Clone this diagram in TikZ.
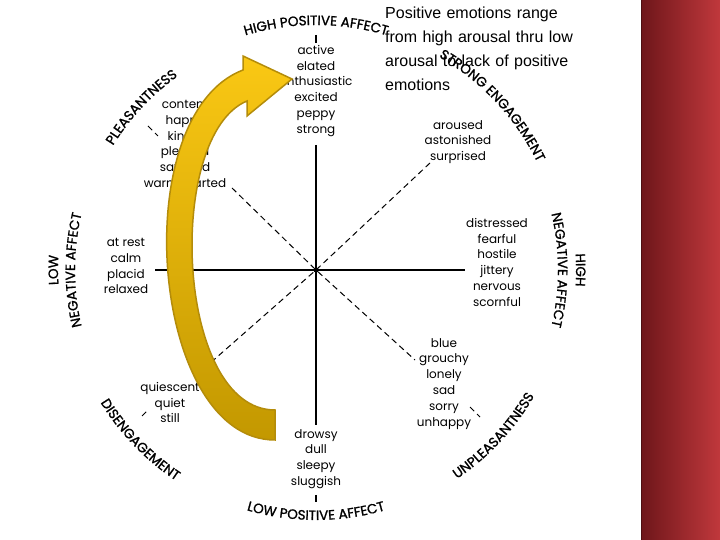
\documentclass[tikz,border=0pt]{standalone}
\usepackage{fontspec}
\setmainfont{Poppins}
\newfontfamily\labfont[FakeBold=1.2]{Poppins}
\newfontfamily\notefont{Liberation Sans}
\usetikzlibrary{decorations.text}
\definecolor{goldtop}{RGB}{250,200,20}
\definecolor{goldbot}{RGB}{195,152,0}
\definecolor{goldedge}{RGB}{180,140,10}
\definecolor{stripL}{RGB}{110,22,26}
\definecolor{stripR}{RGB}{192,56,60}
\begin{document}
\begin{tikzpicture}[x=1pt,y=1pt,
  words/.style={align=center,font=\fontsize{12}{15.8}\selectfont,inner sep=0pt},
  axis/.style={line width=1.1pt,black},
  diag/.style={line width=1pt,dash pattern=on 6pt off 4pt},
  arclab/.style={decorate,decoration={text along path,text align=center,
     text={|\labfont\fontsize{13.5}{14}\selectfont|#1}}}]
\useasboundingbox (0,0) rectangle (720,540);
\fill[white] (0,0) rectangle (720,540);
% red strip
\shade[left color=stripL,right color=stripR] (641,0) rectangle (720,540);
\draw[line width=1pt,stripL!70!black] (641,0) -- (641,540);

\coordinate (c) at (316,270);
% axes
\coordinate (top) at (316,395);
\coordinate (bot) at (316,115);
\coordinate (lft) at (155,270);
\coordinate (rgt) at (465,270);
\draw[axis] (top) -- (bot);
\draw[axis] (lft) -- (rgt);
\fill (c) circle (2.5);
\coordinate (t1) at (316,505); \coordinate (t2) at (316,497);
\draw[axis] (t1) -- (t2);
\coordinate (b1) at (316,45); \coordinate (b2) at (316,38);
\draw[axis] (b1) -- (b2);
% diagonals
\coordinate (ul) at (232,352); \coordinate (ur) at (430,377);
\coordinate (ll) at (200,168); \coordinate (lr) at (415,180);
\draw[diag] (ul) -- (c) -- (lr);
\draw[diag] (ur) -- (c) -- (ll);
\coordinate (ult1) at (148,414); \coordinate (ult2) at (158,404);
\draw[diag] (ult1) -- (ult2);
\coordinate (lrt1) at (470,133); \coordinate (lrt2) at (480,123);
\draw[diag] (lrt1) -- (lrt2);
\coordinate (llt1) at (142,124); \coordinate (llt2) at (148,130);
\draw[diag] (llt1) -- (llt2);

% word lists
\node[words,anchor=north] (wtop) at (316,495) {active\\elated\\enthusiastic\\excited\\peppy\\strong};
\node[words,anchor=north] (wul) at (185,440) {content\\happy\\kindly\\pleased\\satisfied\\warmhearted};
\node[words,anchor=north] (wur) at (458,420) {aroused\\astonished\\surprised};
\node[words,anchor=north] (wr) at (497,322) {distressed\\fearful\\hostile\\jittery\\nervous\\scornful};
\node[words,anchor=north] (wl) at (126,302) {at rest\\calm\\placid\\relaxed};
\node[words,anchor=north] (wlr) at (444,202) {blue\\grouchy\\lonely\\sad\\sorry\\unhappy};
\node[words,anchor=north] (wll) at (170,158) {quiescent\\quiet\\still};
\node[words,anchor=north] (wb) at (316,111) {drowsy\\dull\\sleepy\\sluggish};

% curved labels
\path[arclab={HIGH POSITIVE AFFECT}] (c) ++(118:245) arc[start angle=118,end angle=62,radius=245];
\path[arclab={LOW POSITIVE AFFECT}] (c) ++(240:250) arc[start angle=240,end angle=300,radius=250];
\path[arclab={LOW}] (c) ++(195:258) arc[start angle=195,end angle=165,radius=258];
\path[arclab={NEGATIVE AFFECT}] (c) ++(212:241) arc[start angle=212,end angle=148,radius=241];
\path[arclab={HIGH}] (c) ++(15:260) arc[start angle=15,end angle=-15,radius=260];
\path[arclab={NEGATIVE AFFECT}] (c) ++(32:242) arc[start angle=32,end angle=-32,radius=242];
\path[arclab={STRONG ENGAGEMENT}] (c) ++(70:246) arc[start angle=70,end angle=16,radius=246];
\path[arclab={PLEASANTNESS}] (c) ++(156:238) arc[start angle=156,end angle=118,radius=238];
\path[arclab={UNPLEASANTNESS}] (c) ++(-64:252) arc[start angle=-64,end angle=-22,radius=252];
\path[arclab={DISENGAGEMENT}] (c) ++(203:253) arc[start angle=203,end angle=245,radius=253];

% yellow arrow
\shade[top color=goldtop,bottom color=goldbot,draw=goldedge,line width=1.5pt]
 (275,100) .. controls (150,100) and (125,425) .. (243,470)
 -- (243,484) -- (292,461) -- (247,424) -- (247,439)
 .. controls (165,405) and (175,130) .. (275,130) -- cycle;

% note
\node[font=\notefont\fontsize{16}{24}\selectfont,align=left,anchor=north west,inner sep=0pt,text width=240pt] (note) at (385,533)
 {Positive emotions range\\from high arousal thru low\\arousal to lack of positive\\emotions};
\end{tikzpicture}
\end{document}
